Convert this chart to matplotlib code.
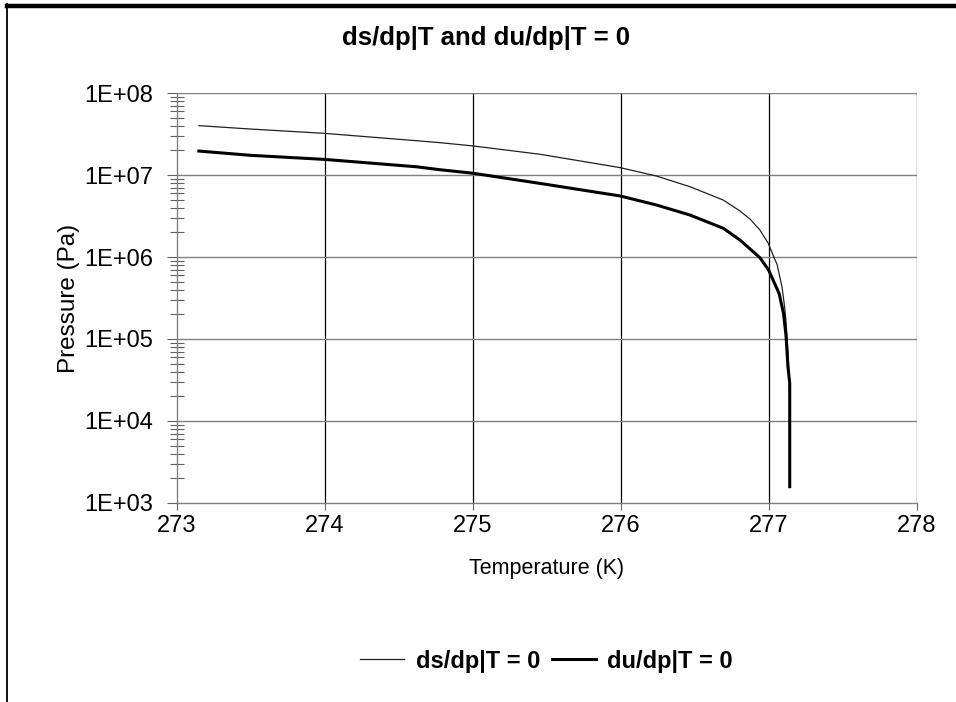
import numpy as np
import matplotlib.pyplot as plt
from matplotlib.lines import Line2D
from matplotlib.ticker import LogLocator, FixedLocator, NullFormatter

plt.rcParams['font.family'] = ['Liberation Sans', 'DejaVu Sans']

# ds/dp|T = 0 curve (thin)
t_ds = [273.15, 273.495, 274.0, 274.62, 274.779, 275.004, 275.455, 275.997,
        276.243, 276.468, 276.693, 276.806, 276.874, 276.941, 276.997,
        277.043, 277.056, 277.09, 277.107, 277.116, 277.13, 277.141]
p_ds = [4.0e7, 3.64e7, 3.22e7, 2.62e7, 2.48e7, 2.26e7, 1.79e7, 1.23e7,
        9.7e6, 7.2e6, 4.95e6, 3.64e6, 2.9e6, 2.13e6, 1.47e6,
        9.2e5, 8.2e5, 4.3e5, 2.5e5, 1.7e5, 7.0e4, 2.5e4]

# du/dp|T = 0 curve (thick)
t_du = [273.15, 273.495, 274.0, 274.62, 274.779, 275.004, 275.455, 275.997,
        276.243, 276.468, 276.693, 276.806, 276.941, 277.0, 277.07, 277.10,
        277.117, 277.13, 277.142, 277.142]
p_du = [1.96e7, 1.74e7, 1.55e7, 1.26e7, 1.16e7, 1.05e7, 7.9e6, 5.55e6,
        4.3e6, 3.25e6, 2.24e6, 1.61e6, 9.8e5, 6.9e5, 3.6e5, 2.06e5,
        1.1e5, 4.6e4, 2.9e4, 1.58e3]

x_ticks = [273, 274, 275, 276, 277, 278]
y_ticks = [1e3, 1e4, 1e5, 1e6, 1e7, 1e8]
y_labels = ['1E+03', '1E+04', '1E+05', '1E+06', '1E+07', '1E+08']

fig = plt.figure(figsize=(9.56, 7.02), dpi=100)
ax = fig.add_axes([0.1848, 0.2835, 0.9589 - 0.1848, 0.8675 - 0.2835])

ax.plot(t_ds, p_ds, color='#202020', lw=0.9, label='ds/dp|T = 0',
        solid_joinstyle='round')
ax.plot(t_du, p_du, color='black', lw=2.2, label='du/dp|T = 0',
        solid_joinstyle='round')

ax.set_yscale('log')
ax.set_xlim(273, 278)
ax.set_ylim(1e3, 1e8)
ax.set_xticks(x_ticks)
ax.set_xticklabels([str(t) for t in x_ticks])
ax.yaxis.set_major_locator(FixedLocator(y_ticks))
ax.set_yticklabels(y_labels)
ax.yaxis.set_minor_locator(LogLocator(base=10, subs=np.arange(2, 10)))
ax.yaxis.set_minor_formatter(NullFormatter())

# grid: black verticals, grey horizontals
for t in x_ticks[1:]:
    ax.axvline(t, color='black', lw=0.9, zorder=0)
for p in y_ticks[1:]:
    ax.axhline(p, color='#808080', lw=1.0, zorder=0)

for s in ['top', 'right']:
    ax.spines[s].set_visible(False)
for s in ['left', 'bottom']:
    ax.spines[s].set_color('#808080')
    ax.spines[s].set_linewidth(1.0)

ax.tick_params(axis='y', which='major', direction='out', length=7, width=0.8,
               color='#606060', pad=10, labelsize=17)
ax.tick_params(axis='y', which='minor', direction='inout', length=9.5, width=0.8,
               color='#606060')
ax.tick_params(axis='x', which='major', direction='out', length=5, width=0.8,
               color='#606060', pad=4, labelsize=17)
ax.tick_params(axis='x', which='minor', length=0)

ax.set_xlabel('Temperature (K)', fontsize=15.5)
ax.set_ylabel('Pressure (Pa)', fontsize=17.5)
ax.xaxis.set_label_coords(0.5, -0.135)
ax.yaxis.set_label_coords(-0.131, 0.5)

fig.text(0.508, 0.946, 'ds/dp|T and du/dp|T = 0', ha='center', va='center',
         fontsize=18.5, fontweight='bold')

fig.legend(loc='center', bbox_to_anchor=(0.5717, 0.0584), ncol=2, frameon=False,
           prop={'size': 17, 'weight': 'bold'}, handlelength=1.85,
           columnspacing=0.5, handletextpad=0.5)

# outer frame: thick top rule and thin left rule
fig.add_artist(Line2D([0.007, 1.0], [0.9915, 0.9915], color='black', lw=3.2,
                      transform=fig.transFigure))
fig.add_artist(Line2D([0.0075, 0.0075], [0.0, 0.994], color='black', lw=1.3,
                      transform=fig.transFigure))

fig.savefig('out.png', dpi=100)
